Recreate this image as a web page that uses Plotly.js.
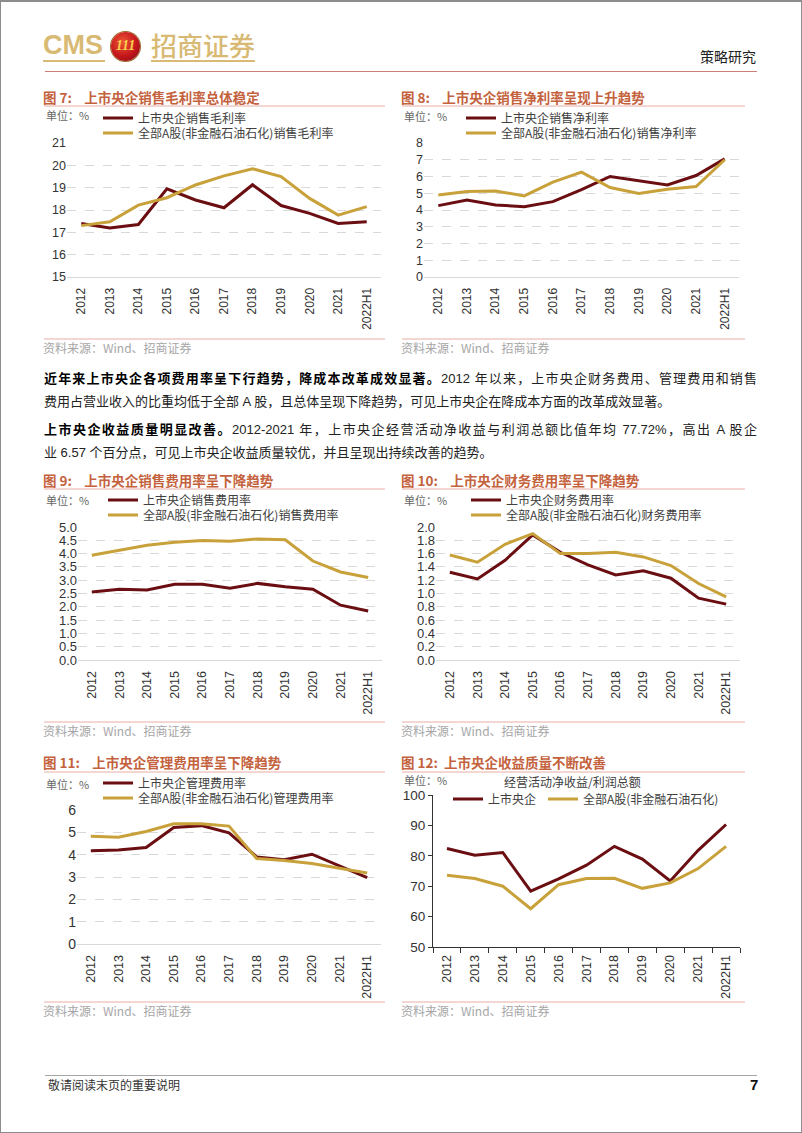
<!DOCTYPE html>
<html><head><meta charset="utf-8">
<script src="https://cdn.plot.ly/plotly-3.0.1.min.js"></script>
<style>
body{margin:0;padding:0;background:#fff;}
#page{position:relative;width:802px;height:1133px;overflow:hidden;background:#fff;font-family:"Liberation Sans","Noto Sans CJK SC",sans-serif;}
#chart{position:absolute;left:0;top:0;width:802px;height:1133px;}
.abs{position:absolute;white-space:nowrap;}
.para{position:absolute;left:44px;width:713px;font-size:13px;line-height:18px;height:18px;color:#222;text-align:justify;}
.full{text-align-last:justify;}
.para b{font-weight:bold;color:#000;}
#frame{position:absolute;left:0;top:0;width:802px;height:1133px;box-sizing:border-box;border:1px solid #8c8c8c;border-top-width:2px;pointer-events:none;}
</style></head>
<body>
<div id="page">
  <div id="chart"></div>
  <!-- header -->
  <div class="abs" style="left:43px;top:32px;font-size:27px;line-height:27px;font-weight:bold;color:#D8BA74;font-family:'Liberation Sans Narrow','Liberation Sans',sans-serif;">CMS</div>
  <div class="abs" style="left:43px;top:60px;width:62px;height:2px;background:#D8BA74;"></div>
  <div class="abs" style="left:111px;top:32px;width:29px;height:29px;border-radius:50%;background:radial-gradient(circle at 40% 35%,#EE5535 0%,#C4161C 55%,#7A0A10 100%);box-shadow:0 0 0 1px #9a6a2a;"></div>
  <div class="abs" style="left:111px;top:38px;width:29px;text-align:center;font-size:14px;line-height:16px;font-weight:bold;font-style:italic;color:#F6D04D;font-family:'Liberation Serif',serif;">111</div>
  <div class="abs" style="left:151px;top:31px;font-size:26px;line-height:28px;color:#D8BA74;font-family:'Noto Sans CJK SC',sans-serif;font-weight:500;">招商证券</div>
  <div class="abs" style="left:151px;top:60px;width:104px;height:2px;background:#D8BA74;"></div>
  <div class="abs" style="left:700px;top:47px;font-size:14px;line-height:18px;color:#222;font-family:'Noto Sans CJK SC',sans-serif;">策略研究</div>
  <div class="abs" style="left:45px;top:71px;width:712px;height:1px;background:#CF7D77;"></div>

  <!-- paragraphs -->
  <div class="para full" style="top:370px;"><b>近年来上市央企各项费用率呈下行趋势，降成本改革成效显著。</b>2012 年以来，上市央企财务费用、管理费用和销售</div>
  <div class="para" style="top:393px;">费用占营业收入的比重均低于全部 A 股，且总体呈现下降趋势，可见上市央企在降成本方面的改革成效显著。</div>
  <div class="para full" style="top:421px;"><b>上市央企收益质量明显改善。</b>2012-2021 年，上市央企经营活动净收益与利润总额比值年均 77.72%，高出 A 股企</div>
  <div class="para" style="top:444px;">业 6.57 个百分点，可见上市央企收益质量较优，并且呈现出持续改善的趋势。</div>

  <!-- footer -->
  <div class="abs" style="left:45px;top:1075px;width:712px;height:1px;background:#A6A6A6;"></div>
  <div class="abs" style="left:48px;top:1077px;font-size:12px;line-height:16px;color:#333;font-family:'Noto Sans CJK SC',sans-serif;">敬请阅读末页的重要说明</div>
  <div class="abs" style="left:750px;top:1076px;font-size:15px;line-height:18px;font-weight:bold;color:#111;">7</div>
  <div id="frame"></div>
</div>
<script>
// ---------------- data ----------------
const years = ['2012','2013','2014','2015','2016','2017','2018','2019','2020','2021','2022H1'];

const grossSOE = [17.4,17.2,17.35,18.95,18.45,18.1,19.13,18.2,17.85,17.4,17.47];
const grossAll = [17.3,17.47,18.22,18.55,19.12,19.53,19.85,19.5,18.52,17.77,18.15];

const netSOE = [4.26,4.6,4.3,4.2,4.5,5.22,6.0,5.74,5.5,6.06,7.05];
const netAll = [4.9,5.1,5.14,4.84,5.66,6.26,5.34,4.98,5.24,5.4,7.0];

const sellSOE = [2.56,2.66,2.63,2.85,2.85,2.7,2.88,2.75,2.66,2.06,1.84];
const sellAll = [3.94,4.13,4.31,4.43,4.49,4.46,4.55,4.52,3.72,3.31,3.1];

const finSOE = [1.32,1.22,1.5,1.88,1.62,1.43,1.28,1.34,1.23,0.93,0.84];
const finAll = [1.58,1.47,1.74,1.9,1.6,1.6,1.62,1.55,1.42,1.15,0.95];

const admSOE = [4.18,4.21,4.32,5.22,5.3,4.98,3.9,3.77,4.02,3.5,2.97];
const admAll = [4.83,4.78,5.04,5.38,5.38,5.28,3.83,3.74,3.6,3.38,3.18];

const qualSOE = [82.4,80.2,81.1,68.4,72.4,76.9,83.1,78.9,71.7,81.8,90.3];
const qualAll = [73.6,72.5,70.0,62.6,70.5,72.5,72.6,69.3,71.1,75.8,83.1];

const seriesNames = [
  ['上市央企销售毛利率','全部A股(非金融石油石化)销售毛利率'],
  ['上市央企销售净利率','全部A股(非金融石油石化)销售净利率'],
  ['上市央企销售费用率','全部A股(非金融石油石化)销售费用率'],
  ['上市央企财务费用率','全部A股(非金融石油石化)财务费用率'],
  ['上市央企管理费用率','全部A股(非金融石油石化)管理费用率'],
  ['上市央企','全部A股(非金融石油石化)']
];
const chartTitles = [
  '图 7:\u00a0\u00a0\u00a0\u00a0上市央企销售毛利率总体稳定',
  '图 8:\u00a0\u00a0\u00a0\u00a0上市央企销售净利率呈现上升趋势',
  '图 9:\u00a0\u00a0\u00a0\u00a0上市央企销售费用率呈下降趋势',
  '图 10:\u00a0\u00a0\u00a0\u00a0上市央企财务费用率呈下降趋势',
  '图 11:\u00a0\u00a0\u00a0\u00a0上市央企管理费用率呈下降趋势',
  '图 12:\u00a0\u00a0上市央企收益质量不断改善'
];
const unitLabel = '单位：%';
const sourceLabel = '资料来源：Wind、招商证券';
const chart12Subtitle = '经营活动净收益/利润总额';
const pairs = [[grossSOE,grossAll],[netSOE,netAll],[sellSOE,sellAll],[finSOE,finAll],[admSOE,admAll],[qualSOE,qualAll]];

// ---------------- layout geometry (page pixels) ----------------
const W = 802, H = 1133;
const px = v => v / W;
const py = v => 1 - v / H;
const DARK = '#6B0E12', GOLD = '#C8A13A';
const FONT = '"Liberation Sans","Noto Sans CJK SC",sans-serif';
const CJK = '"Noto Sans CJK SC","Liberation Sans",sans-serif';

const boxes = [
  {x0:67, x1:381, y0:143, y1:277, range:[15,21], dtick:1, fmt:'d', fy:12.5, fx:12},
  {x0:424,x1:739, y0:143, y1:277, range:[0,8], dtick:1, fmt:'d', fy:12.5, fx:12},
  {x0:78, x1:382, y0:527, y1:660, range:[0,5], dtick:0.5, fmt:'.1f', fy:13, fx:12.5},
  {x0:436,x1:740, y0:527, y1:660, range:[0,2], dtick:0.2, fmt:'.1f', fy:13, fx:12.5},
  {x0:77, x1:381, y0:810, y1:944, range:[0,6], dtick:1, fmt:'d', fy:14, fx:12.5},
  {x0:433,x1:740, y0:795, y1:947, range:[50,100], dtick:10, fmt:'d', fy:13.5, fx:12.5, boxed:true}
];
const legendPos = [
  [[107,118],[107,133]],
  [[470,118],[470,133]],
  [[112,500],[112,515]],
  [[475,500],[475,515]],
  [[107,783],[107,798]],
  [[457,799],[552,799]]
];
const unitPos = [[47,115],[405,116],[47,500],[405,500],[47,784],[405,780]];
const colLeft = [44,402,44,402,44,402];
const colRight = [385,745,385,745,385,745];
const titleY = [97,97,480,480,762,762];
const ruleY = [106,106,489,489,772,772];
const srcRuleY = [339,339,722,722,1002,1002];
const srcY = [347,347,730,730,1011,1011];
const TX = -3;   // annotation left-padding compensation
const LX = -9;   // legend box offset to key start

const traces = [];
const layout = {
  width: W, height: H,
  margin: {l:0, r:0, t:0, b:0, pad:0},
  paper_bgcolor: 'rgba(0,0,0,0)', plot_bgcolor: 'rgba(0,0,0,0)',
  showlegend: true,
  font: {family: FONT, color: '#404040'},
  annotations: [], shapes: []
};

boxes.forEach((b, i) => {
  const n = i + 1;
  const xa = 'xaxis' + (n === 1 ? '' : n), ya = 'yaxis' + (n === 1 ? '' : n);
  const xr = 'x' + (n === 1 ? '' : n), yr = 'y' + (n === 1 ? '' : n);
  layout[xa] = {
    domain: [px(b.x0), px(b.x1)], anchor: yr, type: 'category',
    range: [-0.5, 10.5], tickangle: -90,
    tickfont: {family: FONT, size: b.fx, color: '#333'},
    showgrid: false, zeroline: false, fixedrange: true,
    showline: true, linecolor: b.boxed ? '#333' : '#D9D9D9', linewidth: 1,
    ticks: b.boxed ? 'outside' : '', tickson: 'boundaries', ticklen: b.boxed ? 5 : 0,
    tickcolor: '#333', ticklabelstandoff: b.boxed ? 2 : 5
  };
  layout[ya] = {
    domain: [py(b.y1), py(b.y0)], anchor: xr, range: b.range,
    tick0: b.range[0], dtick: b.dtick, tickformat: b.fmt,
    tickfont: {family: FONT, size: b.fy, color: '#333'},
    showgrid: !b.boxed, gridcolor: '#D9D9D9', griddash: 'dash', gridwidth: 1,
    zeroline: false, fixedrange: true,
    showline: !!b.boxed, linecolor: '#333', linewidth: 1,
    ticks: b.boxed ? 'outside' : '', ticklen: 4, tickcolor: '#333'
  };
  const colors = [DARK, GOLD];
  pairs[i].forEach((vals, k) => {
    const idx = 2 * i + k + 1;
    const lg = 'legend' + (idx === 1 ? '' : idx);
    traces.push({
      type: 'scatter', mode: 'lines', x: years, y: vals,
      xaxis: xr, yaxis: yr, name: seriesNames[i][k],
      line: {color: colors[k], width: 3}, legend: lg, hoverinfo: 'skip'
    });
    const [lx, ly] = legendPos[i][k];
    layout[lg] = {
      x: px(lx + LX), xanchor: 'left', y: py(ly), yanchor: 'middle',
      bgcolor: 'rgba(0,0,0,0)', borderwidth: 0, itemwidth: 30,
      font: {family: CJK, size: 12, color: '#404040'}
    };
  });
  layout.annotations.push({
    xref: 'paper', yref: 'paper', x: px(colLeft[i] + TX), y: py(titleY[i]),
    xanchor: 'left', yanchor: 'middle', showarrow: false,
    text: '<b>' + chartTitles[i] + '</b>',
    font: {family: CJK, size: 13.5, color: '#C4623E'}
  });
  layout.annotations.push({
    xref: 'paper', yref: 'paper', x: px(unitPos[i][0] + TX), y: py(unitPos[i][1]),
    xanchor: 'left', yanchor: 'middle', showarrow: false, text: unitLabel,
    font: {family: CJK, size: 11, color: '#666'}
  });
  layout.annotations.push({
    xref: 'paper', yref: 'paper', x: px(colLeft[i] + TX), y: py(srcY[i]),
    xanchor: 'left', yanchor: 'middle', showarrow: false, text: sourceLabel,
    font: {family: CJK, size: 12, color: '#A6A6A6'}
  });
  layout.shapes.push({type:'line', xref:'paper', yref:'paper',
    x0: px(colLeft[i]), x1: px(colRight[i]), y0: py(ruleY[i]), y1: py(ruleY[i]),
    line: {color:'#E8AEA4', width:1}});
  layout.shapes.push({type:'line', xref:'paper', yref:'paper',
    x0: px(colLeft[i]), x1: px(colRight[i]), y0: py(srcRuleY[i]), y1: py(srcRuleY[i]),
    line: {color:'#E8AEA4', width:1}});
});
layout.annotations.push({
  xref: 'paper', yref: 'paper', x: px(505 + TX), y: py(781),
  xanchor: 'left', yanchor: 'middle', showarrow: false, text: chart12Subtitle,
  font: {family: CJK, size: 12, color: '#404040'}
});

Plotly.newPlot('chart', traces, layout, {staticPlot: true, displayModeBar: false});
</script>
</body></html>
